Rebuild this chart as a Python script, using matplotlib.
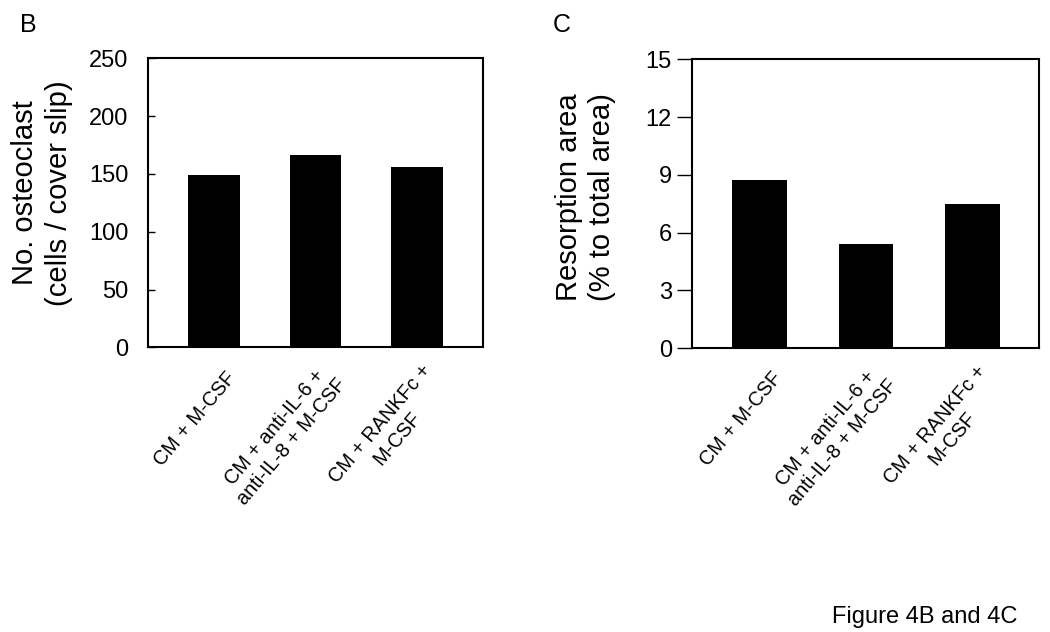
import matplotlib
matplotlib.use("Agg")
import matplotlib.pyplot as plt
import matplotlib.transforms as mtransforms

plt.rcParams['font.family'] = ['Liberation Sans', 'DejaVu Sans']

# data
categories = ["CM + M-CSF", "CM + anti-IL-6 +\nanti-IL-8 + M-CSF", "CM + RANKFc +\nM-CSF"]
osteoclast = [149.3, 166.6, 155.7]
resorption = [8.73, 5.40, 7.46]
yticks_b = [0, 50, 100, 150, 200, 250]
yticks_c = [0, 3, 6, 9, 12, 15]

fig = plt.figure(figsize=(10.5, 6.32), dpi=100)
W, H = 1050.0, 632.0

ax1 = fig.add_axes([148.3 / W, 1 - 347.3 / H, 334.4 / W, 289.0 / H])
ax2 = fig.add_axes([692.0 / W, 1 - 348.0 / H, 347.3 / W, 288.7 / H])

x = list(range(len(categories)))


def style(ax, yticks, xlim, tickdir, ticklen, pad):
    ax.set_xlim(*xlim)
    ax.set_ylim(yticks[0], yticks[-1])
    ax.set_yticks(yticks)
    ax.tick_params(axis='y', direction=tickdir, length=ticklen, width=1,
                   pad=pad, labelsize=17)
    ax.set_xticks(x)
    ax.set_xticklabels(categories, rotation=50, ha='right', va='center',
                       rotation_mode='anchor', multialignment='center',
                       fontsize=14.3)
    ax.tick_params(axis='x', length=0, pad=0)
    # labels sit a little right of and below the bar centre
    off = mtransforms.ScaledTranslation(0.19, -0.27, fig.dpi_scale_trans)
    for lab in ax.get_xticklabels():
        lab.set_transform(lab.get_transform() + off)
    for s in ax.spines.values():
        s.set_linewidth(1.5)
        s.set_color('black')


ax1.bar(x, osteoclast, width=0.51, color='black', zorder=1)
style(ax1, yticks_b, (-0.64, 2.64), 'in', 5, 14.4)

ax2.bar(x, resorption, width=0.51, color='black', zorder=1)
style(ax2, yticks_c, (-0.634, 2.627), 'out', 10.8, 3.6)

fig.text(42 / W, 1 - 193 / H, "No. osteoclast\n(cells / cover slip)",
         rotation=90, ha='center', va='center', multialignment='center',
         fontsize=21, linespacing=1.3)
fig.text(585.5 / W, 1 - 197 / H, "Resorption area\n(% to total area)",
         rotation=90, ha='center', va='center', multialignment='center',
         fontsize=21, linespacing=1.25)

fig.text(20 / W, 1 - 32 / H, "B", fontsize=18, ha='left', va='baseline')
fig.text(553 / W, 1 - 32 / H, "C", fontsize=18, ha='left', va='baseline')
fig.text(832 / W, 1 - 623 / H, "Figure 4B and 4C", fontsize=17,
         ha='left', va='baseline')

fig.savefig("out.png", dpi=100)
